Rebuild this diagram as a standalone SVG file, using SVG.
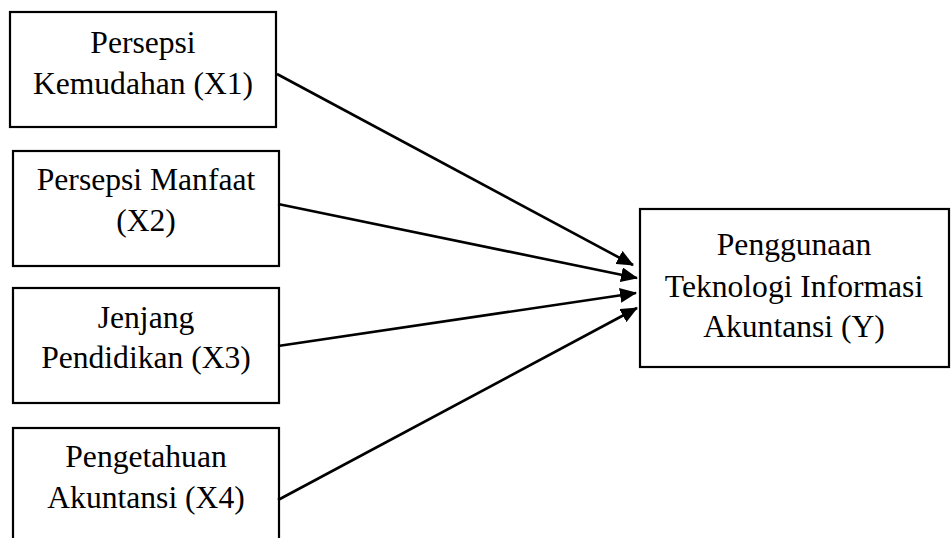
<svg xmlns="http://www.w3.org/2000/svg" width="951" height="538" viewBox="0 0 951 538">
<style>
.box{fill:#fff;stroke:#000;stroke-width:2.2}
.t{font-family:"Liberation Serif","Times New Roman",serif;font-size:31.6px;fill:#000;text-anchor:middle}
.c{stroke:#000;stroke-width:2.6;fill:none}
</style>
<defs>
<marker id="ah" markerUnits="userSpaceOnUse" markerWidth="17" markerHeight="15" refX="16" refY="7.5" orient="auto">
<path d="M0,0 L17,7.5 L0,15 Z" fill="#000"/>
</marker>
</defs>
<rect width="951" height="538" fill="#fff"/>
<g id="x1">
<rect class="box" x="10" y="12" width="266" height="115"/>
<text class="t" x="143" y="53">Persepsi</text>
<text class="t" x="143" y="94">Kemudahan (X1)</text>
</g>
<g id="x2">
<rect class="box" x="13" y="151" width="266" height="115"/>
<text class="t" x="146" y="190">Persepsi Manfaat</text>
<text class="t" x="146" y="231">(X2)</text>
</g>
<g id="x3">
<rect class="box" x="13" y="288" width="266" height="115"/>
<text class="t" x="146" y="328">Jenjang</text>
<text class="t" x="146" y="368">Pendidikan (X3)</text>
</g>
<g id="x4">
<rect class="box" x="13" y="428" width="266" height="130"/>
<text class="t" x="146" y="467">Pengetahuan</text>
<text class="t" x="146" y="508">Akuntansi (X4)</text>
</g>
<g id="y">
<rect class="box" x="640" y="209" width="309" height="158"/>
<text class="t" x="794" y="255">Penggunaan</text>
<text class="t" x="794" y="297">Teknologi Informasi</text>
<text class="t" x="794" y="337">Akuntansi (Y)</text>
</g>
<g id="connectors">
<line class="c" x1="277" y1="74" x2="633" y2="265" marker-end="url(#ah)"/>
<line class="c" x1="278" y1="204" x2="637" y2="278" marker-end="url(#ah)"/>
<line class="c" x1="278" y1="346" x2="636" y2="293" marker-end="url(#ah)"/>
<line class="c" x1="278" y1="500" x2="637" y2="308" marker-end="url(#ah)"/>
</g>
</svg>
